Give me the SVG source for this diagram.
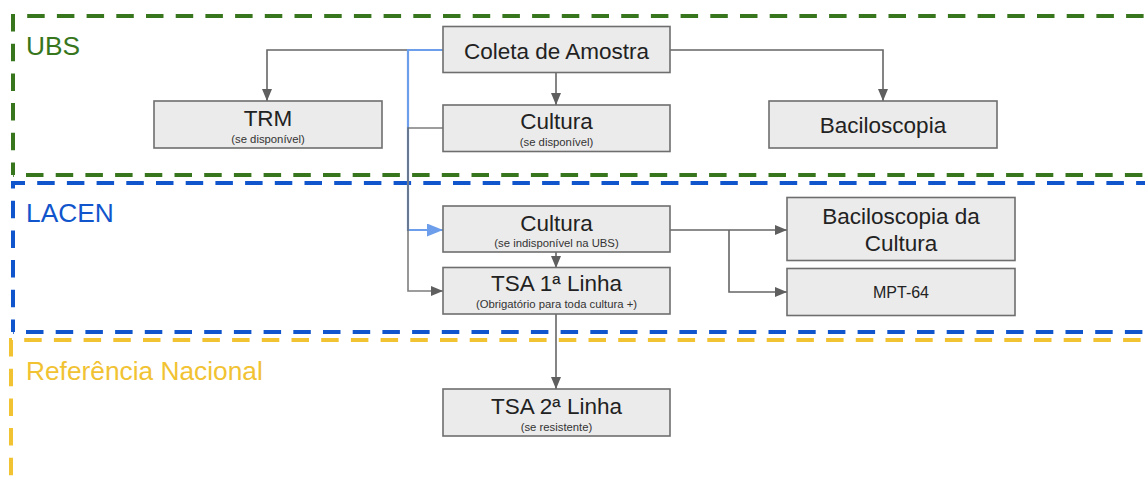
<svg xmlns="http://www.w3.org/2000/svg" width="1145" height="485" viewBox="0 0 1145 485">
<style>
.zone{fill:none;stroke-width:4;stroke-dasharray:17.5 12.2}
.g{stroke:#38761d}.b{stroke:#1155cc}.y{stroke:#f1c232}
.zl{font-family:"Liberation Sans",Arial,sans-serif;font-size:26.3px}
.box{fill:#ebebeb;stroke:#6e6e6e;stroke-width:1.6}
.t{font-family:"Liberation Sans",Arial,sans-serif;font-size:22.5px;fill:#222;text-anchor:middle}
.s{font-family:"Liberation Sans",Arial,sans-serif;font-size:11.3px;fill:#333;text-anchor:middle}
.c{fill:none;stroke:#666;stroke-width:1.6}
.cb{fill:none;stroke:#6d9eeb;stroke-width:2.2}
</style>
<defs>
<marker id="ag" markerUnits="userSpaceOnUse" markerWidth="12" markerHeight="10" refX="12" refY="5" orient="auto"><path d="M0,0 L12,5 L0,10 z" fill="#5f5f5f"/></marker>
<marker id="ab" markerUnits="userSpaceOnUse" markerWidth="16" markerHeight="13" refX="16" refY="6.5" orient="auto"><path d="M0,0 L16,6.5 L0,13 z" fill="#6d9eeb"/></marker>
</defs>
<g id="zones">
<path class="zone g" d="M13,175 V16 H1200" stroke-dashoffset="5"/>
<path class="zone g" d="M13,175 H1200" stroke-dashoffset="-13"/>
<path class="zone b" d="M13,332 V183 H1200" stroke-dashoffset="5"/>
<path class="zone b" d="M13,332 H1200" stroke-dashoffset="-13"/>
<path class="zone y" d="M11,500 V340 H1200" stroke-dashoffset="5"/>
<text class="zl" x="26" y="55" fill="#38761d">UBS</text>
<text class="zl" x="26" y="222" fill="#1155cc">LACEN</text>
<text class="zl" x="26" y="380" fill="#f1c232">Referência Nacional</text>
</g>
<g id="connectors">
<path class="c" d="M443,50 H267 V101" marker-end="url(#ag)"/>
<path class="c" d="M670,50 H883 V101" marker-end="url(#ag)"/>
<path class="c" d="M556,72 V105" marker-end="url(#ag)"/>
<path class="cb" d="M443,50 H408 V230 H443" marker-end="url(#ab)"/>
<path class="c" d="M443,128 H408 V291 H443" marker-end="url(#ag)" stroke-opacity="0.85"/>
<path class="c" d="M556,252 V268" marker-end="url(#ag)"/>
<path class="c" d="M670,230 H787" marker-end="url(#ag)"/>
<path class="c" d="M729,230 V292 H787" marker-end="url(#ag)"/>
<path class="c" d="M556,314 V389" marker-end="url(#ag)"/>
</g>
<g id="coleta">
<rect class="box" x="443" y="26.5" width="227" height="46"/>
<text class="t" x="556.5" y="59">Coleta de Amostra</text>
</g>
<g id="trm">
<rect class="box" x="154" y="101" width="228" height="47"/>
<text class="t" x="268" y="126">TRM</text>
<text class="s" x="268" y="142.5">(se disponível)</text>
</g>
<g id="cultura-ubs">
<rect class="box" x="443" y="105" width="227" height="46.5"/>
<text class="t" x="556.5" y="129">Cultura</text>
<text class="s" x="556.5" y="145.5">(se disponível)</text>
</g>
<g id="baciloscopia">
<rect class="box" x="769" y="101" width="228" height="47"/>
<text class="t" x="883" y="133">Baciloscopia</text>
</g>
<g id="cultura-lacen">
<rect class="box" x="443" y="206" width="227" height="46"/>
<text class="t" x="556.5" y="230.5">Cultura</text>
<text class="s" x="556.5" y="246.5">(se indisponível na UBS)</text>
</g>
<g id="tsa1">
<rect class="box" x="443" y="267.5" width="227" height="46.5"/>
<text class="t" x="556.5" y="291">TSA 1ª Linha</text>
<text class="s" x="556.5" y="308">(Obrigatório para toda cultura +)</text>
</g>
<g id="bacilo-cultura">
<rect class="box" x="787" y="197.5" width="228" height="63"/>
<text class="t" x="901" y="224">Baciloscopia da</text>
<text class="t" x="901" y="250.5">Cultura</text>
</g>
<g id="mpt64">
<rect class="box" x="787" y="268.5" width="228" height="47"/>
<text class="t" x="901" y="298" style="font-size:16px">MPT-64</text>
</g>
<g id="tsa2">
<rect class="box" x="443" y="389" width="227" height="47"/>
<text class="t" x="556.5" y="413.5">TSA 2ª Linha</text>
<text class="s" x="556.5" y="430.5">(se resistente)</text>
</g>
</svg>
